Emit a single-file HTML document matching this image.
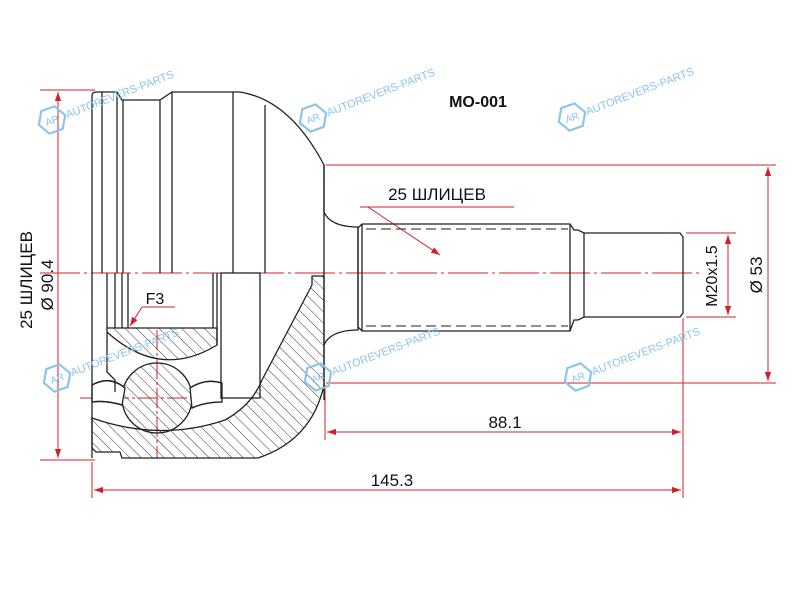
<!DOCTYPE html>
<html><head><meta charset="utf-8"><style>
html,body{margin:0;padding:0;background:#fff;width:800px;height:600px;overflow:hidden;}
svg{display:block;overflow:hidden;}
text{font-family:"Liberation Sans","DejaVu Sans",sans-serif;}
</style></head><body>
<svg width="800" height="600" viewBox="0 0 800 600" xmlns="http://www.w3.org/2000/svg">
<defs>
<pattern id="h" patternUnits="userSpaceOnUse" width="8" height="8" patternTransform="rotate(-45)">
<line x1="0" y1="0" x2="0" y2="8" stroke="#222" stroke-width="0.9"/>
</pattern>
<marker id="a" viewBox="0 0 10 10" refX="10" refY="5" markerWidth="9" markerHeight="9" orient="auto-start-reverse" markerUnits="userSpaceOnUse">
<path d="M0,1.5 L10,5 L0,8.5 Z" fill="#d0202a"/>
</marker>
<g id="wm">
<path d="M-7,-12 L7,-12 L14,0 L7,12 L-7,12 L-14,0 Z" fill="none" stroke="#8cc4ea" stroke-width="2.2" transform="rotate(-20)"/>
<text x="-7" y="4" font-size="10" fill="#8cc4ea" transform="rotate(-20)">AR</text>
<text x="15" y="4" font-size="11" fill="#8cc4ea" transform="rotate(-21)">AUTOREVERS-PARTS</text>
</g>
</defs>
<g stroke="#d0202a" stroke-width="1" fill="none">
<line x1="40" y1="273" x2="700" y2="273" stroke-dasharray="40,4,3,4"/>
<line x1="40" y1="90" x2="95" y2="90"/>
<line x1="40" y1="460" x2="95" y2="460"/>
<line x1="58" y1="92" x2="58" y2="458" marker-start="url(#a)" marker-end="url(#a)"/>
<line x1="326" y1="165" x2="776" y2="165"/>
<line x1="326" y1="383" x2="776" y2="383"/>
<line x1="768" y1="167" x2="768" y2="381" marker-start="url(#a)" marker-end="url(#a)"/>
<line x1="686" y1="233" x2="736" y2="233"/>
<line x1="686" y1="317" x2="736" y2="317"/>
<line x1="728" y1="235" x2="728" y2="315" marker-start="url(#a)" marker-end="url(#a)"/>
<line x1="683" y1="318" x2="683" y2="498"/>
<line x1="325" y1="385" x2="325" y2="440"/>
<line x1="92" y1="462" x2="92" y2="498"/>
<line x1="327" y1="432" x2="681" y2="432" marker-start="url(#a)" marker-end="url(#a)"/>
<line x1="94" y1="490" x2="681" y2="490" marker-start="url(#a)" marker-end="url(#a)"/>
<line x1="360" y1="207" x2="514" y2="207"/>
<line x1="368" y1="207" x2="440" y2="255" marker-end="url(#a)"/>
<line x1="175" y1="307" x2="142" y2="307"/>
<line x1="142" y1="307" x2="130" y2="326" marker-end="url(#a)"/>
<line x1="80" y1="398" x2="210" y2="398" stroke-dasharray="20,3,3,3"/>
<line x1="157" y1="330" x2="157" y2="458" stroke-dasharray="20,3,3,3"/>
</g>
<g stroke="#222" stroke-width="1.3">
<path d="M92,418 Q160,442 225,420 Q252,405 262,380 L312,285 L312,276 L324,276 L324,385 Q312,440 258,458 L122,458 L120,452 L96,452 L92,448 Z" fill="url(#h)"/>
<path d="M107,328 L217,328 L217,345 Q160,380 107,332 Z" fill="url(#h)"/>
<circle cx="157" cy="398" r="35" fill="url(#h)"/>
<path d="M92,385 Q110,375 125,388 L122,405 Q105,400 92,402 Z" fill="#fff"/>
<path d="M190,388 Q205,378 222,383 L222,402 Q205,402 192,408 Z" fill="#fff"/>
</g>
<g stroke="#222" stroke-width="1.3" fill="none">
<path d="M92,458 L92,96 Q92,92 96,92 L117,92 L122,100 L160,100 L172,92 L240,92 Q290,100 324,165 L324,212 Q330,226 355,227 L358,227 L358,330 L355,330 Q330,331 324,345"/>
<line x1="324" y1="165" x2="324" y2="400"/>
<line x1="102" y1="92" x2="102" y2="273"/>
<line x1="117" y1="92" x2="117" y2="273"/>
<line x1="123" y1="100" x2="123" y2="273"/>
<line x1="160" y1="100" x2="160" y2="273"/>
<line x1="172" y1="92" x2="172" y2="273"/>
<line x1="233" y1="92" x2="233" y2="273"/>
<line x1="265" y1="105" x2="265" y2="273"/>
<line x1="107" y1="273" x2="107" y2="328"/>
<line x1="115" y1="273" x2="115" y2="328"/>
<line x1="122" y1="273" x2="122" y2="328"/>
<line x1="128" y1="273" x2="128" y2="328"/>
<line x1="213" y1="273" x2="213" y2="328"/>
<line x1="217" y1="273" x2="217" y2="345"/>
<rect x="221" y="273" width="39" height="125"/>
<path d="M107,332 L107,372 L115,380 L115,392"/>
<path d="M362,224 L570,224 L574,230 L578,230 L584,233 L680,233 L683,237 L683,313 L680,317 L584,317 L578,320 L574,320 L570,331 L362,331 L358,327 L358,228 Z"/>
<line x1="362" y1="224" x2="362" y2="331"/>
<line x1="570" y1="224" x2="570" y2="331"/>
<line x1="584" y1="233" x2="584" y2="317"/>
<line x1="366" y1="229" x2="568" y2="229" stroke-dasharray="10,5" stroke-width="1"/>
<line x1="366" y1="326" x2="568" y2="326" stroke-dasharray="10,5" stroke-width="1"/>
<path d="M92,385 Q110,375 125,388 M122,405 Q105,400 92,402 M190,388 Q205,378 222,383 M222,402 Q205,402 192,408"/>
</g>
<g fill="#111">
<text x="478" y="107" font-size="16" font-weight="bold" text-anchor="middle">MO-001</text>
<text x="437" y="200" font-size="17" text-anchor="middle">25 ШЛИЦЕВ</text>
<text x="155" y="304" font-size="16" text-anchor="middle">F3</text>
<text x="505" y="428" font-size="17" text-anchor="middle">88.1</text>
<text x="392" y="486" font-size="17" text-anchor="middle">145.3</text>
<text transform="translate(32,280) rotate(-90)" font-size="17" text-anchor="middle">25 ШЛИЦЕВ</text>
<text transform="translate(53,285) rotate(-90)" font-size="17" text-anchor="middle">Ø 90.4</text>
<text transform="translate(717,276) rotate(-90)" font-size="16" text-anchor="middle">M20x1.5</text>
<text transform="translate(762,275) rotate(-90)" font-size="17" text-anchor="middle">Ø 53</text>
</g>
<use href="#wm" x="52" y="120"/>
<use href="#wm" x="313" y="118"/>
<use href="#wm" x="572" y="117"/>
<use href="#wm" x="57" y="378"/>
<use href="#wm" x="318" y="377"/>
<use href="#wm" x="578" y="377"/>
</svg>
</body></html>
